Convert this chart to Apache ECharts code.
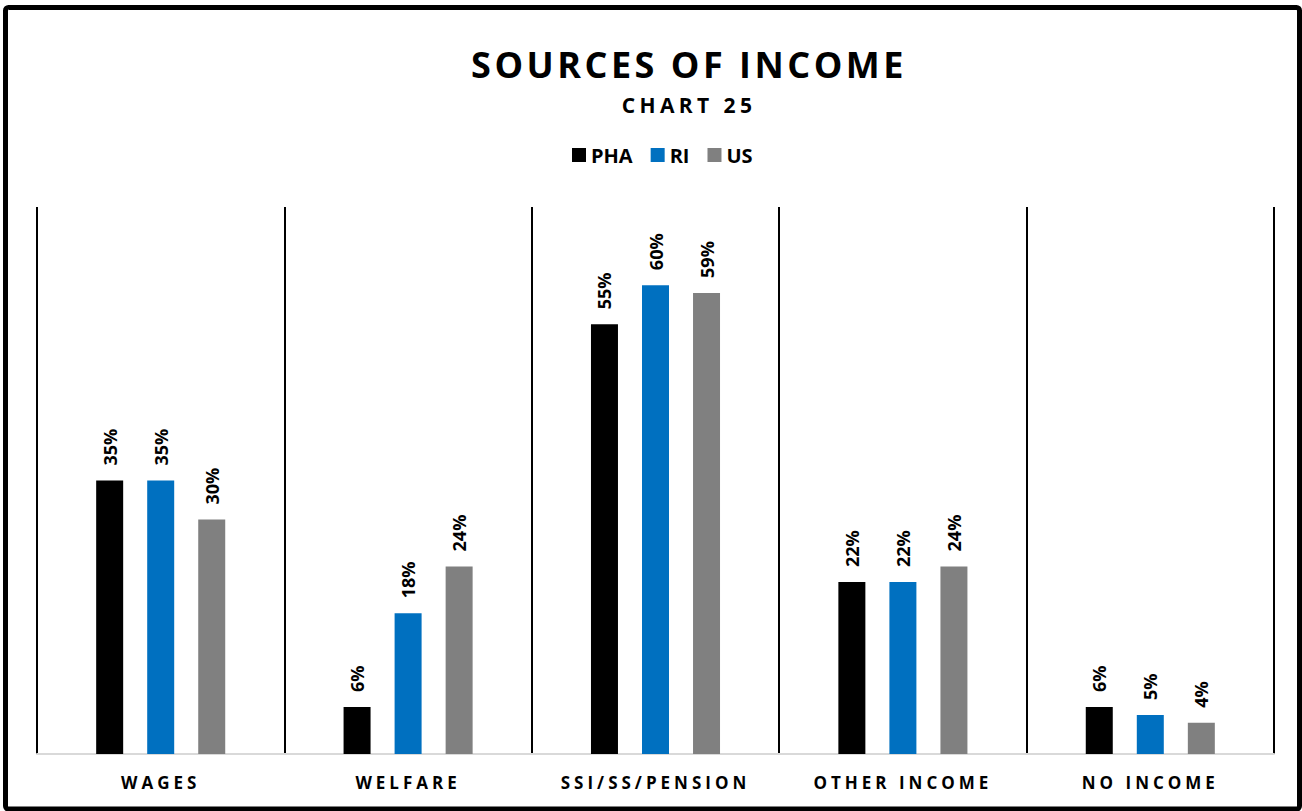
<!DOCTYPE html>
<html>
<head>
<meta charset="utf-8">
<title>Sources of Income</title>
<script src="https://cdn.jsdelivr.net/npm/echarts@6/dist/echarts.min.js"></script>
<style>
  html, body { margin: 0; padding: 0; background: #ffffff; }
  #chart { width: 1302px; height: 811px; }
  /* tracked capitals for the heading, subheading and category names */
  #chart text[style*="36px"] { letter-spacing: 3.5px; }
  #chart text[style*="21px"] { letter-spacing: 4.4px; }
  #chart text[style*="17px"] { letter-spacing: 4px; }
</style>
</head>
<body>
<div id="chart"></div>
<script>
const categories = ['WAGES', 'WELFARE', 'SSI/SS/PENSION', 'OTHER INCOME', 'NO INCOME'];
const seriesNames = ['PHA', 'RI', 'US'];
const phaValues = [35, 6, 55, 22, 6];
const riValues = [35, 18, 60, 22, 5];
const usValues = [30, 24, 59, 24, 4];
const seriesColors = ['#000000', '#0070C0', '#808080'];
const titleText = 'SOURCES OF INCOME';
const subtitleText = 'CHART 25';

const FONT = '"Open Sans", "Noto Sans", sans-serif';

const chart = echarts.init(document.getElementById('chart'), null, { renderer: 'svg' });

function barSeries(name, values, color) {
  return {
    name: name,
    type: 'bar',
    data: values,
    barWidth: 27,
    barGap: '89%',
    itemStyle: { color: color },
    label: {
      show: true,
      position: 'top',
      rotate: 90,
      align: 'left',
      verticalAlign: 'middle',
      distance: 15,
      formatter: '{c}%',
      fontFamily: FONT,
      fontSize: 18,
      fontWeight: 'bold',
      color: '#000000'
    }
  };
}

chart.setOption({
  animation: false,
  backgroundColor: '#ffffff',
  graphic: [
    {
      type: 'rect',
      silent: true,
      shape: { x: 5.5, y: 7.5, width: 1294, height: 801.5, r: 3 },
      style: { fill: 'none', stroke: '#000000', lineWidth: 5 }
    },
    {
      type: 'text',
      x: 689,
      y: 64,
      style: {
        text: titleText,
        fontFamily: FONT, fontSize: 36, fontWeight: 'bold', fill: '#000000',
        align: 'center', verticalAlign: 'middle',
        textAlign: 'center', textVerticalAlign: 'middle'
      }
    },
    {
      type: 'text',
      x: 689,
      y: 105,
      style: {
        text: subtitleText,
        fontFamily: FONT, fontSize: 21, fontWeight: 'bold', fill: '#000000',
        align: 'center', verticalAlign: 'middle',
        textAlign: 'center', textVerticalAlign: 'middle'
      }
    }
  ],
  legend: {
    data: seriesNames,
    left: 572,
    top: 145,
    padding: 0,
    itemWidth: 14,
    itemHeight: 14,
    itemGap: 18,
    icon: 'rect',
    textStyle: { fontFamily: FONT, fontSize: 20, fontWeight: 'bold', color: '#000000' }
  },
  grid: { left: 37, right: 28, top: 207, bottom: 57, containLabel: false },
  xAxis: {
    type: 'category',
    data: categories,
    axisLine: { show: true, lineStyle: { color: '#d9d9d9', width: 2 } },
    axisTick: { show: false },
    splitLine: { show: true, lineStyle: { color: '#000000', width: 2 } },
    axisLabel: {
      interval: 0,
      margin: 20,
      fontFamily: FONT, fontSize: 17, fontWeight: 'bold', color: '#000000'
    }
  },
  yAxis: {
    type: 'value',
    min: 0,
    max: 70,
    show: false,
    splitLine: { show: false }
  },
  series: [
    barSeries(seriesNames[0], phaValues, seriesColors[0]),
    barSeries(seriesNames[1], riValues, seriesColors[1]),
    barSeries(seriesNames[2], usValues, seriesColors[2])
  ]
});
</script>
</body>
</html>
